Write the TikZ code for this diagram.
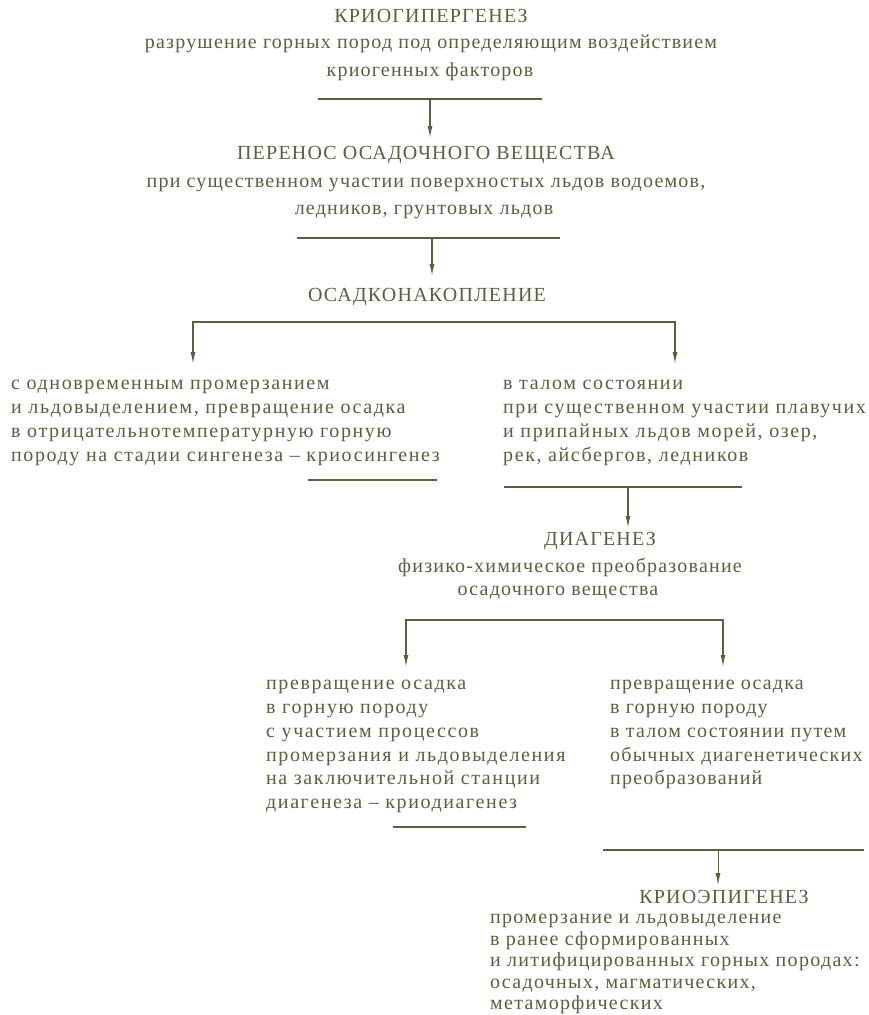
\documentclass[tikz,border=0pt]{standalone}
\usepackage{fontspec}
\setmainfont{Liberation Serif}[LetterSpace=6]
\usetikzlibrary{arrows.meta}
\definecolor{ink}{RGB}{92,94,62}
\tikzset{
  txt/.style={inner sep=0pt, text=ink, font=\fontsize{20}{23.6}\selectfont},
  blk/.style={txt, align=left, anchor=north west,
    font=\fontsize{20}{23.8}\selectfont\addfontfeature{LetterSpace=8}},
  bar/.style={draw=ink, line width=1.8pt},
  arr/.style={draw=ink, line width=1.3pt, -{Latex[length=12pt,width=5pt]}},
  arrs/.style={draw=ink, line width=1.3pt, {Latex[length=12pt,width=5pt]}-{Latex[length=12pt,width=5pt]}},
}
\begin{document}
\begin{tikzpicture}[x=1pt,y=-1pt]
  \useasboundingbox (0,0) rectangle (868,1015);
  % cryohypergenesis
  \node[txt] (a0) at (431,16) {КРИОГИПЕРГЕНЕЗ};
  \node[txt] (a1) at (431,44) {разрушение горных пород под определяющим воздействием};
  \node[txt] (a2) at (430,72) {криогенных факторов};
  \coordinate (a3) at (318,99);
  \coordinate (a4) at (542,99);
  \coordinate (a5) at (430,99);
  % transport
  \node[txt] (b0) at (426,155) {ПЕРЕНОС ОСАДОЧНОГО ВЕЩЕСТВА};
  \node[txt] (b1) at (426,185) {при существенном участии поверхностых льдов водоемов,};
  \node[txt] (b2) at (424,212) {ледников, грунтовых льдов};
  \coordinate (b3) at (297,238);
  \coordinate (b4) at (560,238);
  \coordinate (b5) at (432,238);
  % accumulation
  \node[txt] (c0) at (427,297) {ОСАДКОНАКОПЛЕНИЕ};
  \coordinate (cl) at (193,322);
  \coordinate (cr) at (675,322);
  \coordinate (ld) at (193,364);
  \coordinate (rd) at (675,364);
  \node[blk] (l) at (11,380) {с одновременным промерзанием\\
    и льдовыделением, превращение осадка\\
    в отрицательнотемпературную горную\\
    породу на стадии сингенеза -- криосингенез};
  \coordinate (l1) at (308,480);
  \coordinate (l2) at (437,480);
  \node[blk] (r) at (503,380) {в талом состоянии\\
    при существенном участии плавучих\\
    и припайных льдов морей, озер,\\
    рек, айсбергов, ледников};
  \coordinate (r1) at (504,487);
  \coordinate (r2) at (742,487);
  \coordinate (r3) at (628,487);
  % diagenesis
  \node[txt] (d0) at (600,541) {ДИАГЕНЕЗ};
  \node[txt] (d1) at (570,567) {физико-химическое преобразование};
  \node[txt] (d2) at (558,593) {осадочного вещества};
  \coordinate (dl) at (406,620);
  \coordinate (dr) at (723,620);
  \coordinate (dld) at (406,667);
  \coordinate (drd) at (723,667);
  \node[blk] (ll) at (266,680) {превращение осадка\\
    в горную породу\\
    с участием процессов\\
    промерзания и льдовыделения\\
    на заключительной станции\\
    диагенеза -- криодиагенез};
  \coordinate (ll1) at (393,827);
  \coordinate (ll2) at (526,827);
  \node[blk, font=\fontsize{20}{23.8}\selectfont] (rr) at (610,680) {превращение осадка\\
    в горную породу\\
    в талом состоянии путем\\
    обычных диагенетических\\
    преобразований};
  \coordinate (rr1) at (603,850);
  \coordinate (rr2) at (864,850);
  \coordinate (rr3) at (718,850);
  % cryoepigenesis
  \node[txt] (e0) at (724,897) {КРИОЭПИГЕНЕЗ};
  \node[blk, font=\fontsize{20}{21.5}\selectfont\addfontfeature{LetterSpace=6.5}] (e1)
    at (490,914) {промерзание и льдовыделение\\
    в ранее сформированных\\
    и литифицированных горных породах:\\
    осадочных, магматических,\\
    метаморфических};
  % underlines and arrows
  \draw[bar] (a3) -- (a4);
  \draw[arr] (a5) -- (a5 |- 0,138);
  \draw[bar] (b3) -- (b4);
  \draw[arr] (b5) -- (b5 |- 0,276);
  \draw[arrs] (ld) -- (cl) -- (cr) -- (rd);
  \draw[bar] (l1) -- (l2);
  \draw[bar] (r1) -- (r2);
  \draw[arr] (r3) -- (r3 |- 0,528);
  \draw[arrs] (dld) -- (dl) -- (dr) -- (drd);
  \draw[bar] (ll1) -- (ll2);
  \draw[bar] (rr1) -- (rr2);
  \draw[arr, line width=0.8pt] (rr3) -- (rr3 |- 0,885);
\end{tikzpicture}
\end{document}
